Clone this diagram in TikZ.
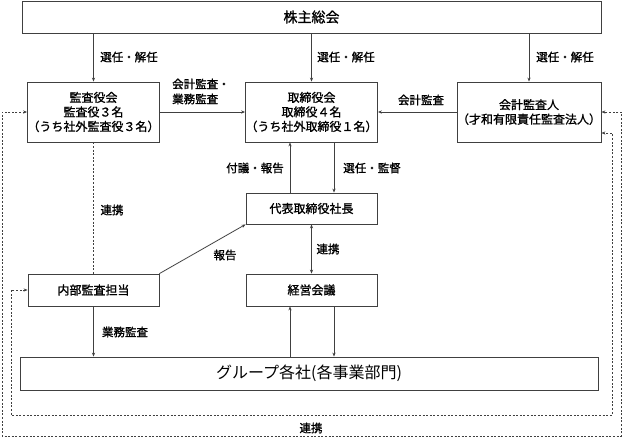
\documentclass[tikz,border=0pt]{standalone}
\usepackage{fontspec}
\setmainfont{Noto Sans CJK JP}
\newfontfamily\hvj[FakeBold=1.2]{Noto Sans CJK JP}
\usetikzlibrary{arrows.meta}
\begin{document}
\begin{tikzpicture}[x=1pt,y=-1pt,
  ln/.style={draw=black!75,line width=0.8pt},
  box/.style={ln,rectangle,inner sep=0pt,align=center,font=\hvj\fontsize{12}{14.5}\selectfont},
  lab/.style={inner sep=0pt,align=left,font=\hvj\fontsize{11.5}{15}\selectfont},
  arr/.style={ln,-{Stealth[length=4pt,width=3.2pt]}},
  darr/.style={ln,{Stealth[length=4pt,width=3.2pt]}-{Stealth[length=4pt,width=3.2pt]}},
  dot/.style={ln,dash pattern=on 2pt off 1.6pt},
  ddot/.style={dot,{Stealth[length=4pt,width=3.2pt]}-{Stealth[length=4pt,width=3.2pt]}}]
\useasboundingbox (0,0) rectangle (623,437);
% boxes
\node[box,minimum width=579,minimum height=32,font=\hvj\fontsize{14}{16}\selectfont] (kabu) at (311.5,17) {株主総会};
\node[box,minimum width=131,minimum height=60] (kansa) at (93.5,112) {監査役会\\監査役３名\\（うち社外監査役３名）};
\node[box,minimum width=131,minimum height=60] (tori) at (311.5,112) {取締役会\\取締役４名\\（うち社外取締役１名）};
\node[box,minimum width=132,minimum height=60] (kaikei) at (529,112) {会計監査人\\（才和有限責任監査法人）};
\node[box,minimum width=131,minimum height=31] (daihyo) at (311.5,208.5) {代表取締役社長};
\node[box,minimum width=131,minimum height=32] (naibu) at (93.5,290) {内部監査担当};
\node[box,minimum width=131,minimum height=32] (keiei) at (311.5,290) {経営会議};
\node[box,minimum width=578,minimum height=33,font=\fontsize{16}{18}\selectfont] (group) at (309,373.5) {グループ各社(各事業部門)};
% arrows from shareholders
\draw[arr] (kabu.south -| kansa.north) -- (kansa.north);
\draw[arr] (kabu.south -| tori.north) -- (tori.north);
\draw[arr] (kabu.south -| kaikei.north) -- (kaikei.north);
\draw[arr] (kansa.east) -- (tori.west);
\draw[arr] (kaikei.west) -- (tori.east);
\draw[arr] ([xshift=-21.5pt]daihyo.north) -- ([xshift=-21.5pt]tori.south);
\draw[arr] ([xshift=22.5pt]tori.south) -- ([xshift=22.5pt]daihyo.north);
\draw[darr] (daihyo.south) -- (keiei.north);
\draw[arr] (naibu.north east) -- (daihyo.south west);
\draw[dot] (kansa.south) -- (naibu.north);
\draw[arr] (naibu.south) -- (naibu.south |- group.north);
\draw[arr] ([xshift=-21.5pt]keiei.south |- group.north) -- ([xshift=-21.5pt]keiei.south);
\draw[arr] ([xshift=22.5pt]keiei.south) -- ([xshift=22.5pt]keiei.south |- group.north);
% dotted loops
\coordinate (o1) at (2,436);
\coordinate (o2) at (621,112);
\coordinate (i1) at (11,415);
\coordinate (i2) at (612,133);
\draw[ddot] (kansa.west) -| (o1) -| (o2) -- (kaikei.east);
\draw[ddot] (naibu.west) -| (i1) -| (i2) -- ([yshift=-21pt]kaikei.east);
% labels
\node[lab] at (129,57) {選任・解任};
\node[lab] at (346,57) {選任・解任};
\node[lab] at (565,57) {選任・解任};
\node[lab,anchor=west] at (172,91.5) {会計監査・\\業務監査};
\node[lab] at (421,100) {会計監査};
\node[lab] at (255,168) {付議・報告};
\node[lab] at (372,168) {選任・監督};
\node[lab] at (112,210) {連携};
\node[lab] at (225,255) {報告};
\node[lab] at (328,249) {連携};
\node[lab] at (125,332) {業務監査};
\node[lab] at (311,428) {連携};
\end{tikzpicture}
\end{document}
